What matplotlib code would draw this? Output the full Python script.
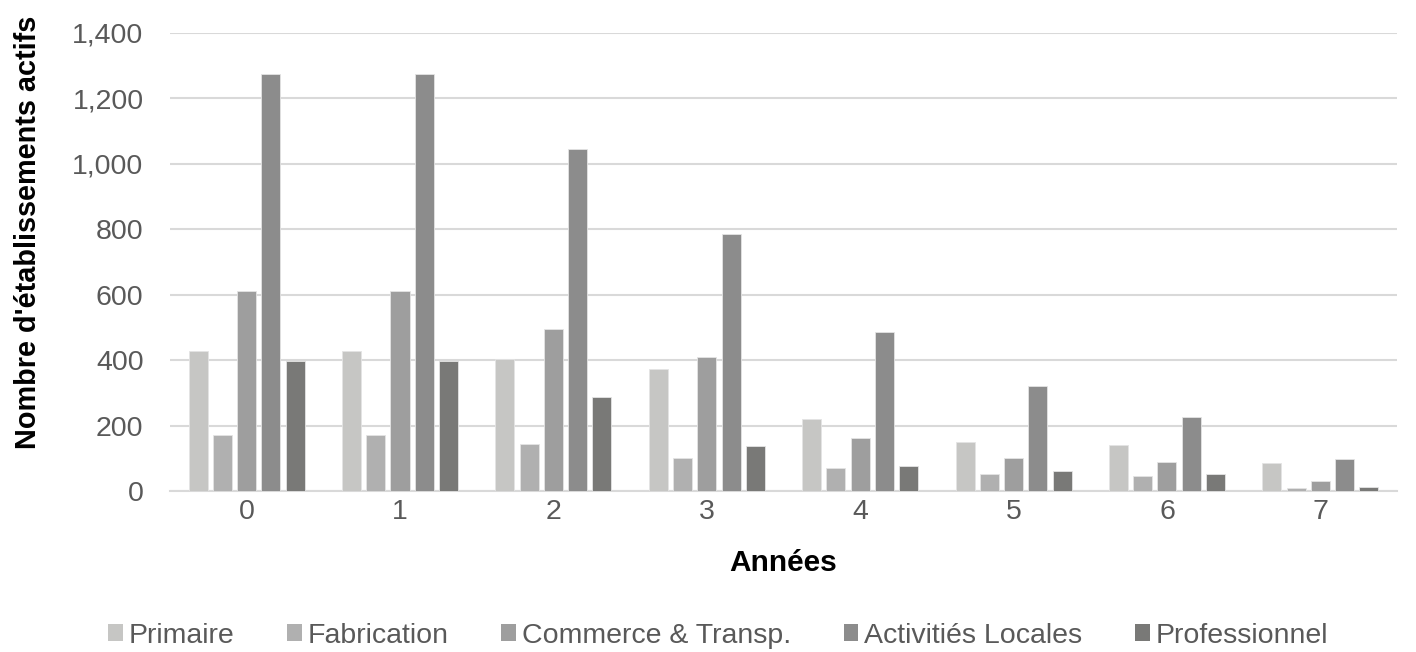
import matplotlib
matplotlib.use("Agg")
import matplotlib.pyplot as plt
import numpy as np
from matplotlib.patches import Patch

plt.rcParams['font.family'] = ['Liberation Sans', 'DejaVu Sans']

years = [0, 1, 2, 3, 4, 5, 6, 7]
series_names = ["Primaire", "Fabrication", "Commerce & Transp.", "Activitiés Locales", "Professionnel"]
primaire = [428, 428, 404, 372, 219, 150, 141, 85]
fabrication = [171, 171, 143, 102, 69, 53, 45, 10]
commerce = [611, 611, 495, 410, 163, 101, 89, 32]
activites = [1275, 1275, 1046, 785, 487, 322, 227, 97]
professionnel = [397, 397, 287, 137, 77, 61, 53, 12]
yticks = [0, 200, 400, 600, 800, 1000, 1200, 1400]

values = [primaire, fabrication, commerce, activites, professionnel]
colors = ["#C6C6C4", "#B0B0B0", "#9E9E9E", "#8C8C8C", "#797977"]

fig = plt.figure(figsize=(14.16, 6.52), dpi=100)
ax = fig.add_axes([0.12, 0.2469, 0.8666, 0.7025])

x = np.arange(len(years))
pitch = 0.158
width = 0.124
for i, (vals, c) in enumerate(zip(values, colors)):
    ax.bar(x + (i - 2) * pitch, vals, width=width, color=c, zorder=3,
           edgecolor="#E4E4E4", linewidth=0.6)

ax.set_xlim(-0.5, 7.5)
ax.set_ylim(0, 1400)
ax.set_yticks(yticks)
ax.set_yticklabels([f"{v:,}" for v in yticks])
ax.set_xticks(x)
ax.set_xticklabels([str(y) for y in years])
ax.grid(axis="y", color="#D9D9D9", linewidth=1.5, zorder=0)
ax.set_axisbelow(True)
for s in ["top", "right", "left"]:
    ax.spines[s].set_visible(False)
ax.spines["bottom"].set_color("#D9D9D9")
ax.spines["bottom"].set_linewidth(1.5)
ax.tick_params(axis="y", length=0, pad=19, labelsize=20.5, labelcolor="#595959")
ax.tick_params(axis="x", length=0, pad=6, labelsize=20.5, labelcolor="#595959")

ax.set_xlabel("Années", fontsize=21.5, fontweight="bold", va="center")
ax.xaxis.set_label_coords(0.5, -0.157)
ax.set_ylabel("Nombre d'établissements actifs", fontsize=20.8, fontweight="bold", va="center")
ax.yaxis.set_label_coords(-0.116, 0.5655)

handles = [Patch(facecolor=c, edgecolor="none") for c in colors]
leg = fig.legend(handles, series_names, loc="center", bbox_to_anchor=(0.507, 0.025),
                 ncol=5, frameon=False, fontsize=20.5, handlelength=0.52,
                 handleheight=0.52, handletextpad=0.2, columnspacing=1.85,
                 labelcolor="#595959")

fig.savefig("out.png", dpi=100)
